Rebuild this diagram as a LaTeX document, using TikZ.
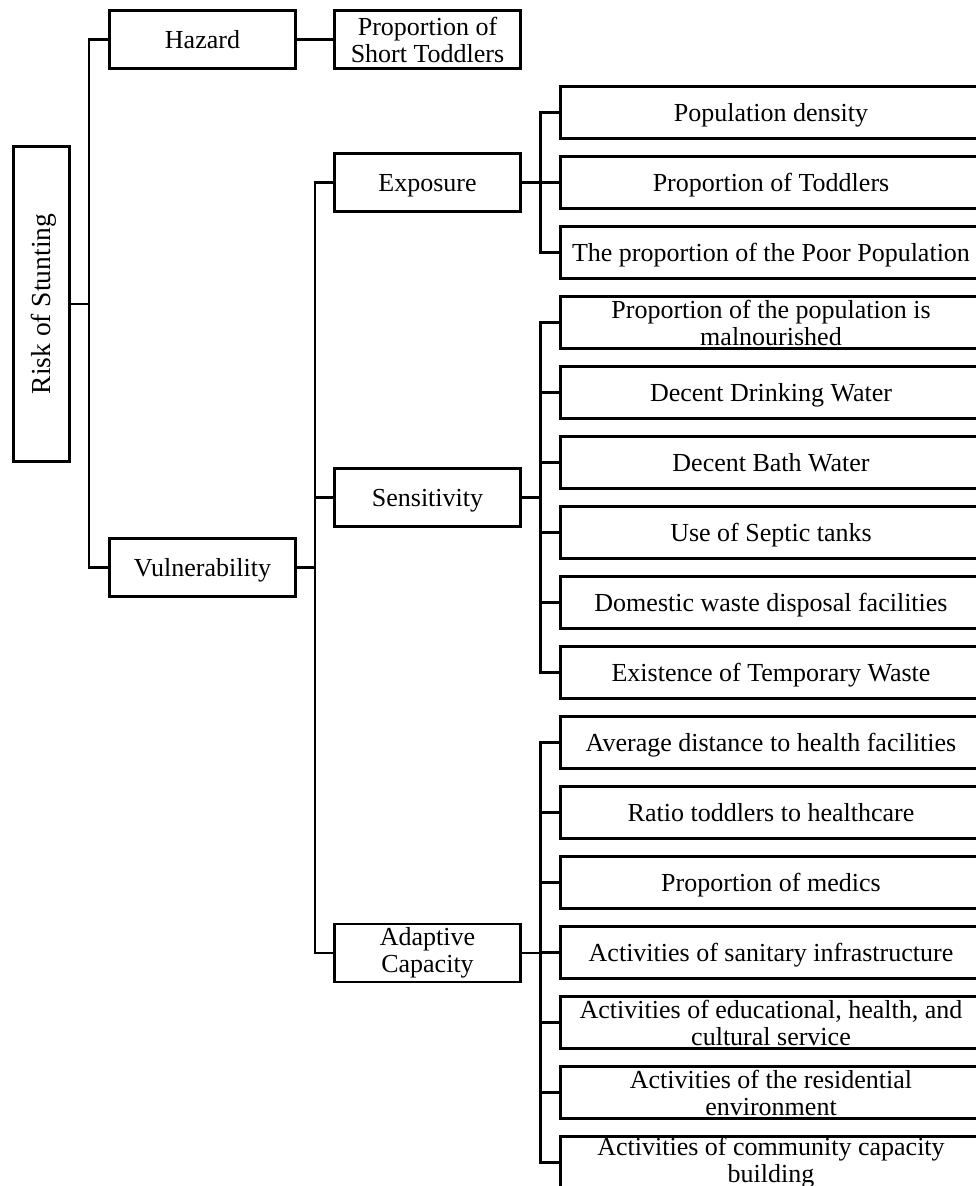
\documentclass[tikz,border=0pt]{standalone}
\usepackage{fontspec}
\setmainfont{Liberation Serif}
\begin{document}
\begin{tikzpicture}[x=1pt,y=-1pt,
  box/.style={draw, line width=2.8pt, inner sep=0pt, outer sep=0pt, align=center,
    font=\fontsize{26}{27}\selectfont},
  one/.style={text height=23.4pt, text depth=6.2pt},
  mid/.style={box, minimum width=186pt, minimum height=58pt},
  leaf/.style={box, minimum width=421pt, minimum height=52pt},
  link/.style={line width=2.7pt, line cap=rect}]
\useasboundingbox (0,0) rectangle (976,1186);
\clip (0,0) rectangle (976,1186);
% junction columns
\coordinate (j1) at (89,0);
\coordinate (j2) at (315,0);
\coordinate (j3) at (540.5,0);
% main nodes
\node[box, rotate=90, minimum width=315pt, minimum height=56pt,
  font=\fontsize{27.5}{28}\selectfont, text height=24.5pt, text depth=6.5pt] (risk) at (41.5,304) {Risk of Stunting};
\node[mid, one] (haz) at (202.5,39.5) {Hazard};
\node[mid] (pst) at (427.5,39.5) {Proportion of\\Short Toddlers};
\node[mid, one] (vul) at (202.5,567.5) {Vulnerability};
\node[mid, one] (exp) at (427.5,182.5) {Exposure};
\node[mid, one] (sen) at (427.5,497.5) {Sensitivity};
\node[mid] (adp) at (427.5,953) {Adaptive\\Capacity};
% leaves
\node[leaf, one] (l0) at (771,112.5) {Population density};
\node[leaf, one] (l1) at (771,182.5) {Proportion of Toddlers};
\node[leaf, one] (l2) at (771,252.5) {The proportion of the Poor Population};
\node[leaf] (l3) at (771,322.5) {Proportion of the population is\\malnourished};
\node[leaf, one] (l4) at (771,392.5) {Decent Drinking Water};
\node[leaf, one] (l5) at (771,462.5) {Decent Bath Water};
\node[leaf, one] (l6) at (771,532.5) {Use of Septic tanks};
\node[leaf, one] (l7) at (771,602.5) {Domestic waste disposal facilities};
\node[leaf, one] (l8) at (771,672.5) {Existence of Temporary Waste};
\node[leaf, one] (l9) at (771,742.5) {Average distance to health facilities};
\node[leaf, one] (l10) at (771,812.5) {Ratio toddlers to healthcare};
\node[leaf, one] (l11) at (771,882.5) {Proportion of medics};
\node[leaf, one] (l12) at (771,952.5) {Activities of sanitary infrastructure};
\node[leaf] (l13) at (771,1022.5) {Activities of educational, health, and\\cultural service};
\node[leaf] (l14) at (771,1092.5) {Activities of the residential\\environment};
\node[leaf] (l15) at (771,1162.5) {Activities of community capacity\\building};
% connectors: level 1
\draw[link] (risk.south) -- (risk.south -| j1);
\draw[link] (haz.west) -- (haz.west -| j1) |- (vul.west);
\draw[link] (haz.east) -- (pst.west);
% level 2
\draw[link] (vul.east) -- (vul.east -| j2);
\draw[link] (exp.west) -- (exp.west -| j2) |- (adp.west);
\draw[link] (sen.west) -- (sen.west -| j2);
% exposure group
\draw[link] (exp.east) -- (exp.east -| j3);
\draw[link] (l0.west) -- (l0.west -| j3) |- (l2.west);
\draw[link] (l1.west) -- (l1.west -| j3);
% sensitivity group
\draw[link] (sen.east) -- (sen.east -| j3);
\draw[link] (l3.west) -- (l3.west -| j3) |- (l8.west);
\foreach \k in {4,5,6,7} \draw[link] (l\k.west) -- (l\k.west -| j3);
% adaptive group
\draw[link] (adp.east) -- (adp.east -| j3);
\draw[link] (l9.west) -- (l9.west -| j3) |- (l15.west);
\foreach \k in {10,11,12,13,14} \draw[link] (l\k.west) -- (l\k.west -| j3);
\end{tikzpicture}
\end{document}
